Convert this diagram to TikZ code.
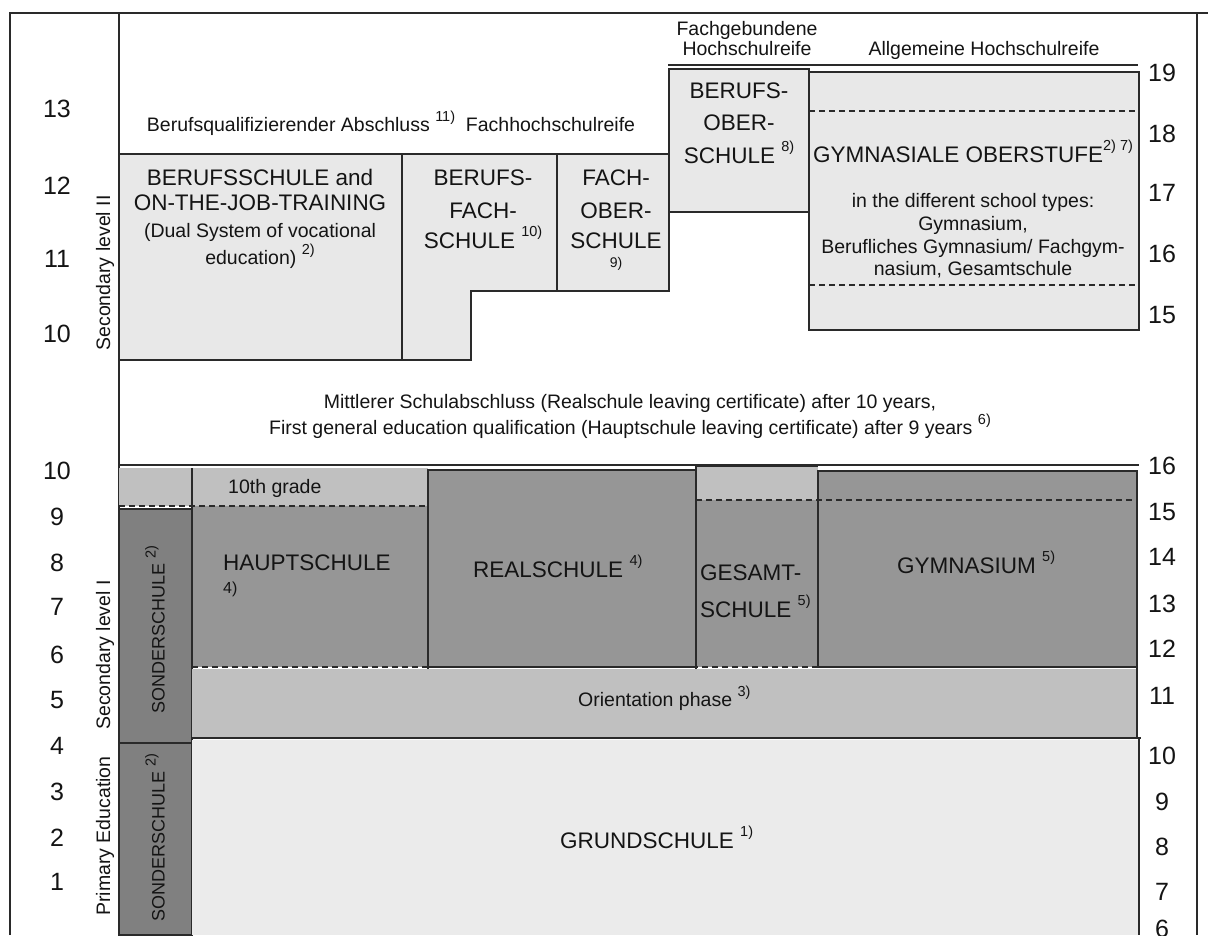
\documentclass[tikz,border=0pt]{standalone}
\usepackage{fontspec}
\setmainfont{Liberation Sans}
\definecolor{txt}{HTML}{141414}
\definecolor{ln}{HTML}{2A2A2A}
\definecolor{boxlight}{HTML}{E8E8E8}
\definecolor{pale}{HTML}{EBEBEB}
\definecolor{midgray}{HTML}{C0C0C0}
\definecolor{darkgray}{HTML}{969696}
\definecolor{sonder}{HTML}{808080}
\newcommand\fn[1]{\raisebox{0.5em}{\fontsize{14.5}{14.5}\selectfont #1}}
\tikzset{
  frame/.style={draw=ln, line width=1.4pt},
  bx/.style={draw=ln, line width=1.3pt},
  light/.style={bx, fill=boxlight},
  dsh/.style={draw=ln, line width=1.2pt, dash pattern=on 6pt off 4pt},
  lbl/.style={inner sep=0pt, text=txt, anchor=base, font=\fontsize{19.5}{22}\selectfont},
  big/.style={inner sep=0pt, text=txt, anchor=base, font=\fontsize{22.5}{26}\selectfont},
  num/.style={inner sep=0pt, text=txt, font=\fontsize{25}{25}\selectfont},
  sonderlbl/.style={inner sep=0pt, text=txt, rotate=90, font=\fontsize{18}{18}\selectfont},
  side/.style={inner sep=0pt, text=txt, rotate=90, font=\fontsize{19.5}{22}\selectfont},
}
\begin{document}
\begin{tikzpicture}[x=1pt,y=-1pt]
\useasboundingbox (0,0) rectangle (1208,935);
\fill[white] (0,0) rectangle (1208,935);

% ---------- outer frame ----------
\draw[frame] (10,935) -- (10,13) -- (1208,13);
\draw[frame] (1197,13) -- (1197,935);
\draw[frame] (119,13) -- (119,935);

% ---------- secondary level II ----------
\draw[frame] (119,154) -- (669,154);
\draw[frame] (668,65) -- (1138,65);
\draw[light] (119,154) rectangle (402,360);
\draw[light] (402,154) -- (557,154) -- (557,291) -- (471,291) -- (471,360) -- (402,360) -- cycle;
\draw[light] (557,154) rectangle (669,291);
\draw[light] (669,69) rectangle (809,212);
\draw[light] (809,72) rectangle (1139,330);
\draw[dsh] (809,111) -- (1139,111);
\draw[dsh] (809,285) -- (1139,285);
\draw[frame] (119,465) -- (1139,465);

% ---------- secondary level I ----------
\fill[midgray] (119,468) rectangle (428,506);
\fill[darkgray] (192,506) rectangle (428,667);
\draw[dsh] (119,506) -- (428,506);
\draw[bx, fill=sonder] (119,509) rectangle (192,743);
\draw[bx, fill=sonder] (119,743) rectangle (192,935);
\draw[bx] (192,468) -- (192,935);
\fill[midgray] (696,466) rectangle (818,500);
\fill[darkgray] (696,500) rectangle (818,667);
\draw[bx, fill=darkgray] (428,470) rectangle (696,667);
\draw[bx, fill=darkgray] (818,471) rectangle (1137,667);
\draw[bx] (696,466) -- (818,466);
\draw[bx] (696,466) -- (696,672);
\draw[bx] (428,470) -- (428,672);
\draw[dsh] (696,500) -- (1137,500);
\fill[midgray] (192,669) rectangle (1137,738);
\draw[bx] (1137,667) -- (1137,738);
\draw[dsh] (192,667) -- (1139,667);
\draw[bx] (192,738) -- (1141,738);
\fill[pale] (192,740) rectangle (1139,935);
\draw[bx] (1139,738) -- (1139,935);

% ---------- texts top ----------
\node[lbl] (abschluss) at (391,131) {Berufsqualifizierender Abschluss \fn{11)}\ \ Fachhochschulreife};
\node[lbl] (fgh1) at (747,35) {Fachgebundene};
\node[lbl] (fgh2) at (747,55) {Hochschulreife};
\node[lbl] (ahr) at (984,55) {Allgemeine Hochschulreife};

\node[big] (bs1) at (260,185) {BERUFSSCHULE and};
\node[big] (bs2) at (260,210) {ON-THE-JOB-TRAINING};
\node[lbl] (bs3) at (260,237) {(Dual System of vocational};
\node[lbl] (bs4) at (260,264) {education) \fn{2)}};

\node[big] (bfs1) at (483,185) {BERUFS-};
\node[big] (bfs2) at (483,218) {FACH-};
\node[big] (bfs3) at (483,248) {SCHULE \fn{10)}};

\node[big] (fos1) at (616,185) {FACH-};
\node[big] (fos2) at (616,218) {OBER-};
\node[big] (fos3) at (616,248) {SCHULE};
\node[inner sep=0pt, text=txt, anchor=base, font=\fontsize{14}{14}\selectfont] (fos4) at (616,267) {9)};

\node[big] (bos1) at (739,98) {BERUFS-};
\node[big] (bos2) at (739,130) {OBER-};
\node[big] (bos3) at (739,163) {SCHULE \fn{8)}};

\node[big] (go1) at (973,162) {GYMNASIALE OBERSTUFE\fn{2) 7)}};
\node[lbl] (go2) at (973,207) {in the different school types:};
\node[lbl] (go3) at (973,230) {Gymnasium,};
\node[lbl] (go4) at (973,253) {Berufliches Gymnasium/ Fachgym-};
\node[lbl] (go5) at (973,275) {nasium, Gesamtschule};

\node[lbl] (msa1) at (630,408) {Mittlerer Schulabschluss (Realschule leaving certificate) after 10 years,};
\node[lbl] (msa2) at (630,434) {First general education qualification (Hauptschule leaving certificate) after 9 years \fn{6)}};

% ---------- texts lower ----------
\node[lbl, anchor=base west] (g10) at (228,493) {10th grade};
\node[big, anchor=base west] (hs1) at (223,570) {HAUPTSCHULE};
\node[inner sep=0pt, text=txt, anchor=base west, font=\fontsize{16}{16}\selectfont] (hs2) at (223,593) {4)};
\node[big, anchor=base west] (rs) at (473,577) {REALSCHULE \fn{4)}};
\node[big, anchor=base west] (ges1) at (700,580) {GESAMT-};
\node[big, anchor=base west] (ges2) at (700,617) {SCHULE \fn{5)}};
\node[big, anchor=base west] (gym) at (897,573) {GYMNASIUM \fn{5)}};
\node[lbl, anchor=base west] (orient) at (578,706) {Orientation phase \fn{3)}};
\node[big, anchor=base west] (grund) at (560,848) {GRUNDSCHULE \fn{1)}};

\node[sonderlbl] (son1) at (155,630) {SONDERSCHULE \fn{2)}};
\node[sonderlbl] (son2) at (155,838) {SONDERSCHULE \fn{2)}};

\node[side] (sl2) at (105,273) {Secondary level II};
\node[side] (sl1) at (105,655) {Secondary level I};
\node[side] (pe) at (105,836) {Primary Education};

% ---------- grade numbers (left) ----------
\foreach \n/\y [count=\i] in {13/109,12/186,11/259,10/334,10/471,9/517,8/563,7/607,6/655,5/700,4/746,3/792,2/838,1/882}
  \node[num] (gl\i) at (57,\y) {\n};

% ---------- age numbers (right) ----------
\foreach \n/\y [count=\i] in {19/73,18/134,17/193,16/254,15/315,16/466,15/512,14/557,13/604,12/649,11/696,10/756,9/802,8/847,7/892,6/929}
  \node[num] (ag\i) at (1162,\y) {\n};
\end{tikzpicture}
\end{document}
